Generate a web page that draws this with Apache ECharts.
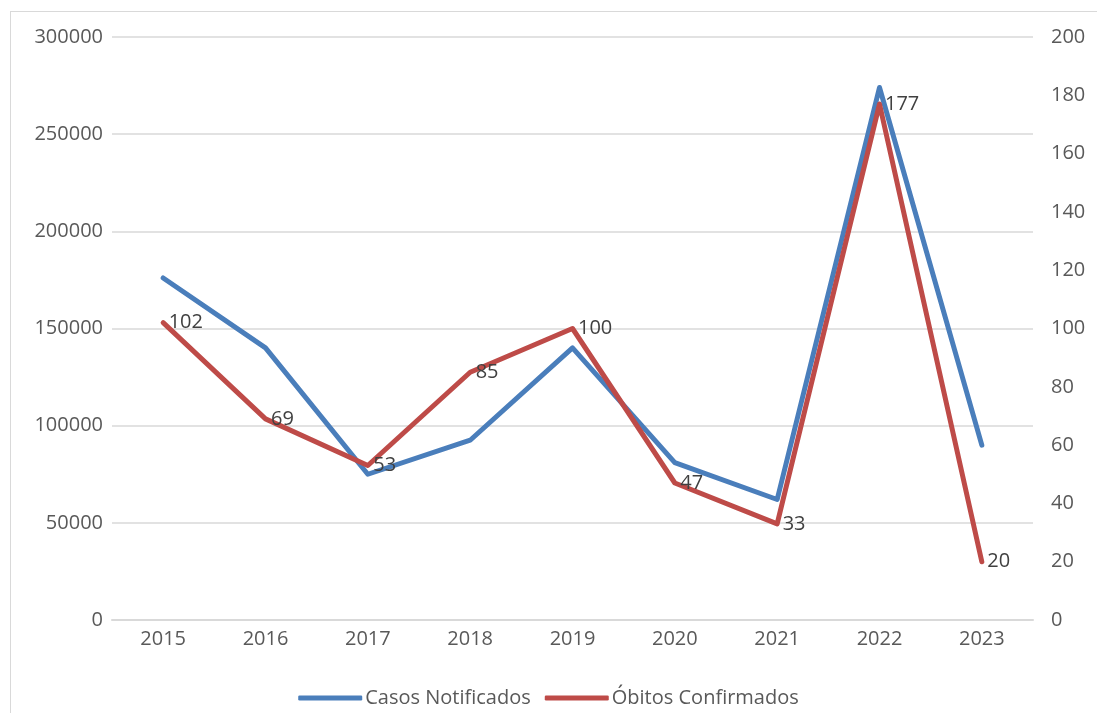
<!DOCTYPE html>
<html>
<head>
    <meta charset="utf-8">
    <title>Casos e Óbitos</title>
    <script src="https://fastly.jsdelivr.net/npm/echarts@6/dist/echarts.min.js"></script>
    <style>
        body { margin: 0; background: #fff; }
        #frame { position: absolute; left: 10px; top: 11px; width: 1200px; height: 800px; border: 1px solid #d9d9d9; }
        #main { position: absolute; left: 0; top: 0; width: 1097px; height: 713px; }
    </style>
</head>
<body>
    <div id="frame"></div>
    <div id="main"></div>
    <script type="text/javascript">
        // dados
        var years = ['2015', '2016', '2017', '2018', '2019', '2020', '2021', '2022', '2023'];
        var casos = [176000, 140000, 75000, 92500, 140000, 81000, 62000, 274000, 90000];
        var obitos = [102, 69, 53, 85, 100, 47, 33, 177, 20];

        var myChart = echarts.init(document.getElementById('main'));
        var txt = '#595959';
        var font = 'Open Sans';

        option = {
  animation: false,
  grid: { left: 112, right: 64, top: 37, bottom: 93 },
  legend: {
    bottom: 0,
    left: 'center',
    itemWidth: 64,
    itemHeight: 5,
    itemGap: 14,
    icon: 'roundRect',
    textStyle: { color: txt, fontSize: 20, fontFamily: font, padding: [0, 0, 0, -2] },
    data: ['Casos Notificados', 'Óbitos Confirmados']
  },
  xAxis: {
    type: 'category',
    data: years,
    boundaryGap: true,
    axisLine: { lineStyle: { color: '#d9d9d9', width: 2 } },
    axisTick: { show: false },
    axisLabel: { color: txt, fontSize: 20, fontFamily: font, margin: 9 }
  },
  yAxis: [
    {
      type: 'value',
      min: 0, max: 300000, interval: 50000,
      axisLine: { show: false },
      axisTick: { show: false },
      splitLine: { lineStyle: { color: '#d9d9d9', width: 1.5 } },
      axisLabel: { color: txt, fontSize: 20, fontFamily: font, margin: 9, formatter: function (v) { return String(v); } }
    },
    {
      type: 'value',
      min: 0, max: 200, interval: 20,
      axisLine: { show: false },
      axisTick: { show: false },
      splitLine: { show: false },
      axisLabel: { color: txt, fontSize: 20, fontFamily: font, margin: 18 }
    }
  ],
  series: [
    {
      name: 'Casos Notificados',
      type: 'line',
      yAxisIndex: 0,
      data: casos,
      symbol: 'none',
      lineStyle: { color: '#4a7ebb', width: 5, cap: 'round', join: 'round' },
      itemStyle: { color: '#4a7ebb' }
    },
    {
      name: 'Óbitos Confirmados',
      type: 'line',
      yAxisIndex: 1,
      data: obitos,
      symbol: 'circle',
      symbolSize: 1,
      lineStyle: { color: '#be4b48', width: 5, cap: 'round', join: 'round' },
      itemStyle: { color: '#be4b48' },
      label: {
        show: true,
        position: 'right',
        distance: 5,
        color: '#404040',
        fontSize: 20,
        fontFamily: font
      }
    }
  ]
};

        myChart.setOption(option);
    </script>
</body>
</html>
